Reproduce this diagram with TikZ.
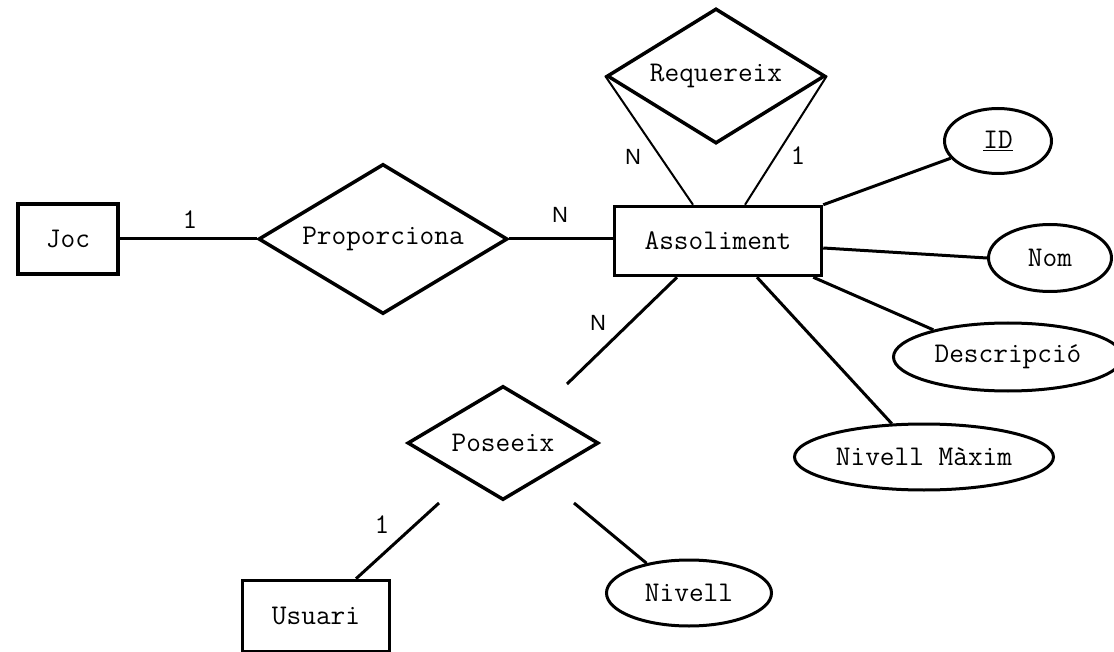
\documentclass[tikz,border=0pt]{standalone}
\usepackage{fontspec}
\usetikzlibrary{shapes.geometric}
\newfontfamily\ersans{Liberation Sans}

\begin{document}
\begin{tikzpicture}[x=1pt, y=-1pt,
		entity/.style={draw, line width=3.5pt, rectangle, inner sep=0pt, font=\ttfamily\fontsize{28.5}{34}\selectfont},
		relation/.style={draw, line width=3.5pt, diamond, inner sep=0pt, font=\ttfamily\fontsize{28.5}{34}\selectfont},
		attrib/.style={draw, line width=3pt, ellipse, inner sep=0pt, font=\ttfamily\fontsize{28.5}{34}\selectfont},
		link/.style={line width=3pt},
		thinlink/.style={line width=2pt},
		cardone/.style={inner sep=0pt, font=\ttfamily\fontsize{28.5}{34}\selectfont},
		cardmany/.style={inner sep=0pt, font=\ersans\fontsize{22}{26}\selectfont}]
			%%%%% START %%%%%
			
			\useasboundingbox (0, 0) rectangle (1114, 652);
			\clip (0, 0) rectangle (1114, 652);
			
			\node[entity, minimum width=100, minimum height=70] (joc) at (68, 239) {Joc};
			\node[entity, minimum width=207, minimum height=69] (assol) at (718, 241) {Assoliment};
			\node[entity, minimum width=147, minimum height=71] (usu) at (316, 616) {Usuari};
			
			\node[relation, aspect=1.66, minimum width=249, minimum height=150] (prop) at (383, 239) {Proporciona};
			\node[relation, aspect=1.615, minimum width=218, minimum height=135] (req) at (716, 76) {Requereix};
			\node[relation, aspect=1.675, minimum width=191, minimum height=114] (pos) at (503, 443) {Poseeix};
			
			\node[attrib, minimum width=107, minimum height=65] (id) at (998, 141) {\underline{ID}};
			\node[attrib, minimum width=123, minimum height=67] (nom) at (1050, 258) {Nom};
			\node[attrib, minimum width=229, minimum height=68] (desc) at (1008, 357) {Descripció};
			\node[attrib, minimum width=259, minimum height=66] (nmax) at (924, 457) {Nivell Màxim};
			\node[attrib, minimum width=165, minimum height=66] (niv) at (689, 593) {Nivell};
			
			\coordinate (posA) at (567, 384);
			\coordinate (posU) at (439, 503);
			\coordinate (posN) at (574, 503);
			
			\draw[link] (joc.east) -- (prop.west);
			\draw[link] (prop.east) -- (prop.east -| assol.west);
			\draw[thinlink] (req.west) -- ([xshift=-25]assol.north);
			\draw[thinlink] (req.east) -- ([xshift=27]assol.north);
			\draw[link] (assol.north east) -- (id.200);
			\draw[link] ([yshift=-7]assol.east) -- (nom.west);
			\draw[link] ([xshift=-10]assol.south east) -- (desc.160);
			\draw[link] ([xshift=39]assol.south) -- (nmax.134);
			\draw[link] ([xshift=-41]assol.south) -- (posA);
			\draw[link] (posU) -- ([xshift=40]usu.north);
			\draw[link] (posN) -- (niv.145);
			
			\node[cardone] (c1) at (190, 220) {1};
			\node[cardmany] (c2) at (560, 215) {N};
			\node[cardmany] (c3) at (633, 157) {N};
			\node[cardone] (c4) at (798, 156) {1};
			\node[cardmany] (c5) at (598, 323) {N};
			\node[cardone] (c6) at (382, 525) {1};
			
			%%%%% END %%%%%
\end{tikzpicture}
\end{document}
